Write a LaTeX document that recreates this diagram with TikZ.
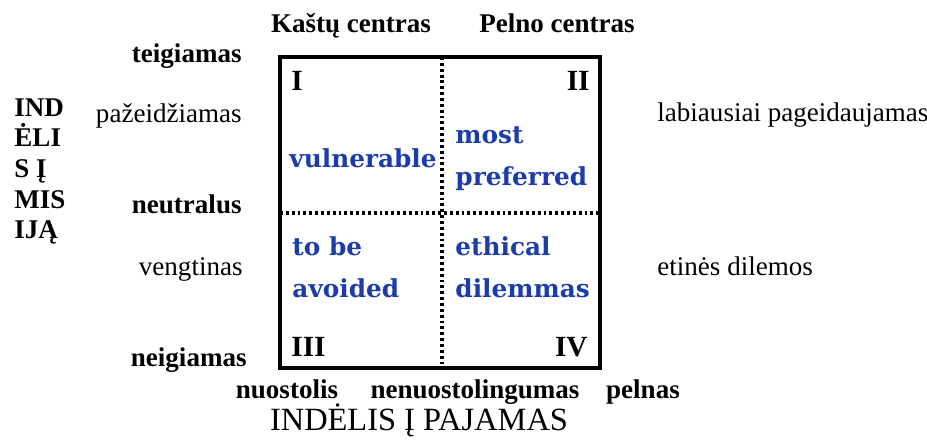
\documentclass[tikz,border=0pt]{standalone}
\usepackage{fontspec}
\setmainfont{Liberation Serif}
\newfontfamily\quadfont{DejaVu Serif}
\definecolor{quadblue}{RGB}{28,60,172}
\tikzset{
  lbl/.style={inner sep=0pt, font=\fontsize{12}{14}\selectfont\bfseries},
  note/.style={inner sep=0pt, font=\fontsize{12}{14}\selectfont},
  quad/.style={inner sep=0pt, anchor=mid west, align=left, text=quadblue,
    font=\quadfont\bfseries\fontsize{11}{18.7}\selectfont},
  roman/.style={inner sep=0pt, font=\fontsize{13}{14}\selectfont\bfseries},
  divider/.style={line width=1.8pt, dash pattern=on 1.3pt off 1.3pt}
}
\begin{document}
\begin{tikzpicture}[x=0.444pt,y=-0.444pt]
  \useasboundingbox (0,0) rectangle (927,439);
  % Matrix
  \coordinate (nw) at (280,57);
  \coordinate (se) at (600,368);
  \coordinate (top) at (442,57);
  \coordinate (bot) at (442,368);
  \coordinate (lft) at (280,213);
  \coordinate (rgt) at (600,213);
  \draw[line width=1.8pt] (nw) rectangle (se);
  \draw[divider] (top) -- (bot);
  \draw[divider] (lft) -- (rgt);
  % Quadrants
  \node[roman, anchor=north west] (q1) at (291,71) {I};
  \node[roman, anchor=north east] (q2) at (590,71) {II};
  \node[roman, anchor=base west] (q3) at (291,356) {III};
  \node[roman, anchor=base east] (q4) at (588,356) {IV};
  \node[quad] (vul) at (289,162) {vulnerable};
  \node[quad, anchor=west] (mpr) at (455,159) {most\\preferred};
  \node[quad, anchor=west] (tba) at (292,267) {to be\\avoided};
  \node[quad, anchor=west] (eth) at (455,267) {ethical\\dilemmas};
  % Column heads
  \node[lbl, anchor=mid] (cost) at (351,27) {Kaštų centras};
  \node[lbl, anchor=mid] (profit) at (557,27) {Pelno centras};
  % Vertical axis
  \node[lbl, anchor=north west, align=left, font=\fontsize{12}{13.6}\selectfont\bfseries] (axisy) at (14,98) {IND\\ĖLI\\S Į\\MIS\\IJĄ};
  \node[lbl, anchor=mid east] (pos) at (242,57) {teigiamas};
  \node[lbl, anchor=mid east] (neu) at (242,208) {neutralus};
  \node[lbl, anchor=mid east] (neg) at (247,361) {neigiamas};
  \node[note, anchor=mid east] (weak) at (242,117) {pažeidžiamas};
  \node[note, anchor=mid east] (avoid) at (243,270) {vengtinas};
  \node[note, anchor=mid west] (best) at (657,116) {labiausiai pageidaujamas};
  \node[note, anchor=mid west] (dilem) at (657,270) {etinės dilemos};
  % Horizontal axis
  \node[lbl, anchor=mid] (loss) at (287,393) {nuostolis};
  \node[lbl, anchor=mid] (even) at (475,393) {nenuostolingumas};
  \node[lbl, anchor=mid] (gain) at (643,393) {pelnas};
  \node[note, anchor=base, font=\fontsize{14.4}{16}\selectfont] (axisx) at (419,430) {INDĖLIS Į PAJAMAS};
\end{tikzpicture}
\end{document}
